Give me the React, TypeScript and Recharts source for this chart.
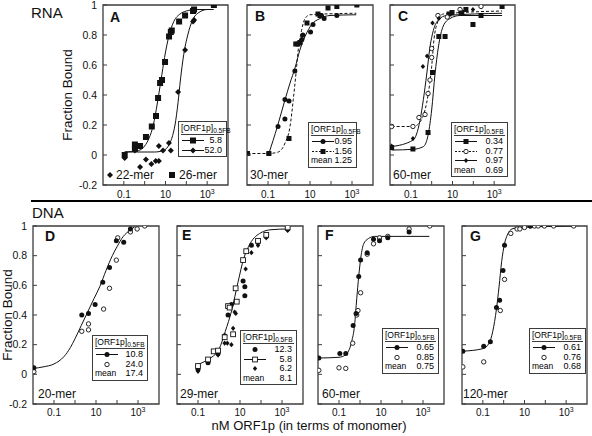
import React from 'react';
import { ComposedChart, XAxis, YAxis, Line, Scatter, ReferenceArea } from 'recharts';

type Pt = [number, number];

// ---- RNA, panel A ----
const rna22Points: Pt[] = [[0.11, -0.02], [0.34, 0.03], [0.6, -0.08], [1.15, -0.03], [2.1, -0.06], [3.4, -0.04], [4.8, -0.04], [4.8, 0.06], [7.6, 0.03], [14.6, 0.08], [18, 0.03], [40, 0.42], [87, 0.7], [210, 0.89], [235, 0.9]];
const rna26Points: Pt[] = [[0.11, 0.0], [0.34, 0.07], [0.34, 0.04], [0.6, 0.06], [1.15, 0.12], [2.2, 0.19], [3.5, 0.26], [4.4, 0.38], [5.5, 0.48], [6.8, 0.5], [9.5, 0.62], [14.8, 0.79], [18, 0.82], [20, 0.83], [45, 0.89], [87, 0.93], [210, 0.96], [235, 0.97], [2100, 1.0]];
const rna26Fit: Pt[] = [[0.11, 0.02], [0.5, 0.03], [1, 0.06], [1.6, 0.11], [2.6, 0.2], [4, 0.34], [6.1, 0.5], [9, 0.65], [15, 0.8], [25, 0.89], [50, 0.94], [100, 0.96], [300, 0.97], [2000, 0.97]];
const rna22Fit: Pt[] = [[0.11, 0.02], [3, 0.02], [8, 0.03], [15, 0.07], [22, 0.13], [28.6, 0.2], [40, 0.35], [52, 0.5], [75, 0.67], [117, 0.8], [200, 0.9], [400, 0.95], [1000, 0.97], [2000, 0.97]];

// ---- RNA, panel B (30-mer) ----
const b095Points: Pt[] = [[0.11, 0.01], [0.3, 0.19], [0.64, 0.24], [0.64, 0.37], [1.0, 0.36], [1.9, 0.56], [4.1, 0.77], [4.6, 0.8], [10.6, 0.82], [13.9, 0.87], [35, 0.93], [47, 0.91], [190, 0.93]];
const b156Points: Pt[] = [[0.0105, 0.01], [0.11, 0.01], [1.0, 0.11], [2.1, 0.74], [2.7, 0.74], [3.3, 0.75], [7.2, 0.88], [24, 0.94], [30, 0.93], [72, 0.98], [190, 0.99], [1700, 1.0]];
const b095Fit: Pt[] = [[0.11, 0.01], [0.28, 0.19], [0.65, 0.37], [1.12, 0.48], [1.93, 0.58], [3.3, 0.7], [5.8, 0.79], [12, 0.87], [30, 0.91], [90, 0.93], [1600, 0.935]];
const b156Fit: Pt[] = [[0.0105, 0.01], [0.11, 0.01], [0.31, 0.02], [0.65, 0.08], [1.12, 0.19], [1.6, 0.37], [2.14, 0.54], [2.75, 0.7], [3.95, 0.83], [5.8, 0.91], [10, 0.935], [1600, 0.945]];

// ---- RNA, panel C (60-mer) ----
const c034Points: Pt[] = [[0.012, 0.05], [0.126, 0.04], [0.67, 0.15], [1.1, 0.55], [2.2, 0.79], [4.4, 0.79], [6.8, 0.94], [9.5, 0.95], [28, 0.95], [44, 0.97], [96, 0.87], [234, 0.93], [2400, 0.99]];
const c077Points: Pt[] = [[0.012, 0.19], [0.126, 0.19], [0.245, 0.25], [0.48, 0.27], [0.67, 0.41], [0.83, 0.5], [1.0, 0.65], [1.0, 0.71], [2.0, 0.93], [5.6, 0.92], [23, 0.97], [234, 0.99]];
const c097Points: Pt[] = [[0.012, 0.06], [0.126, 0.11], [0.38, 0.59], [0.6, 0.66], [1.1, 0.88], [2.2, 0.91], [23, 0.95], [96, 0.97], [2400, 1.0]];
const c097Fit: Pt[] = [[0.012, 0.056], [0.13, 0.1], [0.275, 0.23], [0.4, 0.37], [0.58, 0.54], [0.83, 0.72], [1.2, 0.83], [2.1, 0.9], [5.2, 0.93], [2400, 0.945]];
const c077Fit: Pt[] = [[0.012, 0.19], [0.13, 0.19], [0.275, 0.22], [0.48, 0.3], [0.69, 0.41], [1.0, 0.59], [1.29, 0.77], [1.86, 0.88], [3.6, 0.94], [2400, 0.96]];
const c034Fit: Pt[] = [[0.012, 0.033], [0.13, 0.038], [0.4, 0.056], [0.69, 0.14], [1.0, 0.3], [1.45, 0.54], [2.1, 0.72], [3.6, 0.86], [7.6, 0.91], [23, 0.93], [2400, 0.93]];

// ---- DNA, panel D (20-mer) ----
const d108Points: Pt[] = [[0.011, 0.044], [2.1, 0.4], [4.4, 0.41], [9.1, 0.47], [21, 0.62], [44, 0.72], [93, 0.9], [209, 0.89], [436, 0.98]];
const d240Points: Pt[] = [[0.011, 0.018], [2.1, 0.29], [4.4, 0.34], [4.4, 0.3], [23, 0.44], [44, 0.58], [93, 0.77], [108, 0.92], [436, 0.96], [912, 0.98], [2100, 1.0]];
const d108Fit: Pt[] = [[0.011, 0.04], [0.03, 0.05], [0.1, 0.07], [0.3, 0.12], [0.6, 0.18], [1, 0.24], [2, 0.33], [4, 0.42], [8, 0.51], [15, 0.59], [30, 0.7], [60, 0.8], [100, 0.86], [200, 0.93], [400, 0.97], [700, 0.995]];

// ---- DNA, panel E (29-mer) ----
const e123Points: Pt[] = [[0.1, 0.033], [0.3, 0.078], [0.9, 0.14], [1.86, 0.26], [2.7, 0.4], [3.9, 0.47], [14, 0.63], [17, 0.59], [17, 0.53], [35, 0.87], [72, 0.89], [178, 0.93], [1860, 0.98]];
const e58Points: Pt[] = [[0.1, 0.056], [0.3, 0.1], [0.56, 0.155], [0.9, 0.16], [1.86, 0.25], [2.7, 0.46], [3.2, 0.45], [4.7, 0.27], [6.2, 0.58], [7, 0.49], [14, 0.77], [19.8, 0.83], [72, 0.9], [178, 0.94], [1860, 0.99]];
const e62Points: Pt[] = [[0.1, 0.02], [0.9, 0.13], [1.86, 0.21], [2.5, 0.21], [3.9, 0.2], [4.7, 0.31], [5.6, 0.42], [6.3, 0.41], [18.6, 0.71], [35, 0.82], [72, 0.87], [178, 0.92], [1860, 0.97]];
const e58Fit: Pt[] = [[0.1, 0.067], [0.3, 0.1], [1, 0.17], [2, 0.29], [4, 0.43], [8, 0.62], [15, 0.78], [30, 0.88], [100, 0.955], [300, 0.975], [1800, 0.98]];

// ---- DNA, panel F (60-mer) ----
const f065Points: Pt[] = [[0.011, 0.11], [0.11, 0.14], [0.21, 0.14], [0.47, 0.33], [0.65, 0.41], [0.87, 0.66], [1.07, 0.77], [2.2, 0.82], [4.4, 0.91], [8.5, 0.9], [21, 0.92], [218, 0.96]];
const f085Points: Pt[] = [[0.011, 0.027], [0.1, 0.044], [0.21, 0.04], [0.45, 0.21], [0.7, 0.4], [0.8, 0.43], [1.07, 0.55], [2.2, 0.81], [4.4, 0.88], [8.5, 0.92], [21, 0.93], [218, 0.98], [2100, 1.0]];
const f065Fit: Pt[] = [[0.011, 0.11], [0.1, 0.115], [0.2, 0.13], [0.4, 0.22], [0.55, 0.33], [0.7, 0.51], [0.87, 0.66], [1.1, 0.79], [1.5, 0.88], [2.5, 0.915], [5, 0.93], [2000, 0.93]];

// ---- DNA, panel G (120-mer) ----
const g061Points: Pt[] = [[0.011, 0.156], [0.11, 0.19], [0.23, 0.22], [0.45, 0.45], [0.64, 0.5], [0.93, 0.7], [1.1, 0.87], [19, 1.0]];
const g076Points: Pt[] = [[0.011, 0.05], [0.11, 0.084], [0.69, 0.43], [1.1, 0.64], [2.2, 0.95], [4.4, 0.98], [6, 0.98], [10, 0.99], [19, 1.0], [30, 1.0], [45, 1.0], [90, 1.0], [250, 1.0], [2300, 1.0]];
const g061Fit: Pt[] = [[0.011, 0.156], [0.1, 0.173], [0.2, 0.21], [0.3, 0.29], [0.45, 0.44], [0.6, 0.59], [0.8, 0.76], [1.1, 0.88], [1.5, 0.94], [2.5, 0.98], [5, 0.99], [2300, 1.0]];

const X_DOMAIN: [number, number] = [0.01, 10000];
const X_TICKS = [0.1, 1, 10, 100, 1000];
const Y_DOMAIN: [number, number] = [-0.2, 1];
const Y_TICKS = [-0.2, 0, 0.2, 0.4, 0.6, 0.8, 1];
const Y_LABELS = ['-0.2', '0', '0.2', '0.4', '0.6', '0.8', '1'];

const FONT = '"Liberation Sans", Arial, sans-serif';
const INK = '#111';
const FRAME = '#3c3c3c';

type MarkerKind = 'square' | 'bigSquare' | 'diamond' | 'smallDiamond' | 'dot' | 'open' | 'openSquare';

function drawMarker(kind: MarkerKind, cx: number, cy: number) {
  switch (kind) {
    case 'bigSquare':
      return <rect x={cx - 3} y={cy - 3} width={6} height={6} fill={INK} />;
    case 'square':
      return <rect x={cx - 2.5} y={cy - 2.5} width={5} height={5} fill={INK} />;
    case 'diamond':
      return <polygon points={`${cx},${cy - 3} ${cx + 3},${cy} ${cx},${cy + 3} ${cx - 3},${cy}`} fill={INK} />;
    case 'smallDiamond':
      return <polygon points={`${cx},${cy - 2.6} ${cx + 2.2},${cy} ${cx},${cy + 2.6} ${cx - 2.2},${cy}`} fill={INK} />;
    case 'dot':
      return <circle cx={cx} cy={cy} r={2.5} fill={INK} />;
    case 'open':
      return <circle cx={cx} cy={cy} r={2.2} fill="#fff" stroke={INK} strokeWidth={0.9} />;
    case 'openSquare':
      return <rect x={cx - 2.4} y={cy - 2.4} width={4.8} height={4.8} fill="#fff" stroke={INK} strokeWidth={0.9} />;
  }
  return null;
}

interface Series { points: Pt[]; marker: MarkerKind }
interface Fit { points: Pt[]; dash?: string }
interface PanelCfg { left: number; top: number; w: number; h: number; yLabels: boolean; labelGap: number; series: Series[]; fits: Fit[] }

const rows = (pts: Pt[]) => pts.map(([x, y]) => ({ x, y }));

function XTick(props: any) {
  const { x, y, payload, gap } = props;
  const v = payload.value;
  let label: React.ReactNode = null;
  if (v === 0.1) label = '0.1';
  if (v === 10) label = '10';
  if (v === 1000) label = <>10<tspan dy={-4} fontSize={7}>3</tspan></>;
  return (
    <g>
      <line x1={x} x2={x} y1={y} y2={y - 4} stroke={FRAME} strokeWidth={1} />
      {label && (
        <text x={x} y={y + gap} textAnchor="middle" fontSize={10} fontFamily={FONT} fill={INK}>{label}</text>
      )}
    </g>
  );
}

function YTick(props: any) {
  const { x, y, payload, show } = props;
  const i = Y_TICKS.indexOf(payload.value);
  return (
    <g>
      <line x1={x} x2={x + 4} y1={y} y2={y} stroke={FRAME} strokeWidth={1} />
      {show && (
        <text x={x - 6} y={y + 3.8} textAnchor="end" fontSize={10.5} fontFamily={FONT} fill={INK}>{Y_LABELS[i]}</text>
      )}
    </g>
  );
}

function Panel({ cfg }: { cfg: PanelCfg }) {
  const ML = 34, MT = 6, MR = 6, MB = 22;
  return (
    <div style={{ position: 'absolute', left: cfg.left - ML, top: cfg.top - MT }}>
      <ComposedChart width={cfg.w + ML + MR} height={cfg.h + MT + MB} margin={{ top: MT, right: MR, bottom: 0, left: 0 }}>
        <XAxis dataKey="x" type="number" scale="log" domain={X_DOMAIN} ticks={X_TICKS} allowDataOverflow interval={0}
          height={MB} axisLine={false} tickLine={false} tickSize={0} tickMargin={0} tick={(p: any) => <XTick {...p} gap={cfg.labelGap} />} />
        <YAxis dataKey="y" type="number" domain={Y_DOMAIN} ticks={Y_TICKS} allowDataOverflow interval={0}
          width={ML} axisLine={false} tickLine={false} tickSize={0} tickMargin={0} tick={(p: any) => <YTick {...p} show={cfg.yLabels} />} />
        <ReferenceArea x1={X_DOMAIN[0]} x2={X_DOMAIN[1]} y1={Y_DOMAIN[0]} y2={Y_DOMAIN[1]} fill="none" stroke={FRAME} strokeWidth={1.3} ifOverflow="visible" />
        {cfg.fits.map((f, i) => (
          <Line key={`f${i}`} data={rows(f.points)} dataKey="y" type="monotone" dot={false} stroke={INK} strokeWidth={1}
            strokeDasharray={f.dash} isAnimationActive={false} />
        ))}
        {cfg.series.map((s, i) => (
          <Scatter key={`s${i}`} data={rows(s.points)} dataKey="y" isAnimationActive={false}
            shape={(p: any) => drawMarker(s.marker, p.cx, p.cy)} />
        ))}
      </ComposedChart>
    </div>
  );
}

const PANELS: PanelCfg[] = [
  { left: 103, top: 5, w: 125, h: 180, yLabels: true, labelGap: 13,
    fits: [{ points: rna26Fit }, { points: rna22Fit }],
    series: [{ points: rna22Points, marker: 'diamond' }, { points: rna26Points, marker: 'bigSquare' }] },
  { left: 247, top: 5, w: 126, h: 180, yLabels: false, labelGap: 13,
    fits: [{ points: b095Fit }, { points: b156Fit, dash: '3 2' }],
    series: [{ points: b095Points, marker: 'dot' }, { points: b156Points, marker: 'square' }] },
  { left: 390, top: 5, w: 125, h: 180, yLabels: false, labelGap: 13,
    fits: [{ points: c097Fit }, { points: c077Fit, dash: '3 2' }, { points: c034Fit }],
    series: [{ points: c034Points, marker: 'square' }, { points: c077Points, marker: 'open' }, { points: c097Points, marker: 'smallDiamond' }] },
  { left: 33, top: 226, w: 126, h: 178, yLabels: true, labelGap: 12,
    fits: [{ points: d108Fit }],
    series: [{ points: d240Points, marker: 'open' }, { points: d108Points, marker: 'dot' }] },
  { left: 177, top: 226, w: 126, h: 178, yLabels: false, labelGap: 12,
    fits: [{ points: e58Fit }],
    series: [{ points: e62Points, marker: 'smallDiamond' }, { points: e123Points, marker: 'dot' }, { points: e58Points, marker: 'openSquare' }] },
  { left: 318, top: 226, w: 126, h: 178, yLabels: false, labelGap: 12,
    fits: [{ points: f065Fit }],
    series: [{ points: f085Points, marker: 'open' }, { points: f065Points, marker: 'dot' }] },
  { left: 462, top: 226, w: 125, h: 178, yLabels: false, labelGap: 12,
    fits: [{ points: g061Fit }],
    series: [{ points: g076Points, marker: 'open' }, { points: g061Points, marker: 'dot' }] },
];

interface LegendRow { marker?: MarkerKind; line?: 'solid' | 'dashed'; label?: string; value: string }

function LegendBox({ left, top, width, items }: { left: number; top: number; width: number; items: LegendRow[] }) {
  return (
    <div style={{ position: 'absolute', left, top, width, boxSizing: 'border-box', border: `1px solid ${FRAME}`, background: '#fff',
      fontFamily: FONT, fontSize: 9, color: '#000', padding: '1px 2px 1px 2px' }}>
      <div style={{ borderBottom: `1px solid ${FRAME}`, height: 11, marginBottom: 1 }}>
        <svg width={width - 6} height={11} style={{ display: 'block', overflow: 'visible' }}>
          <text x={0} y={8} fontSize={8.5} fontFamily={FONT} fill="#000">
            [ORF1p]<tspan fontSize={6.5} dy={2}>0.5FB</tspan>
          </text>
        </svg>
      </div>
      {items.map((r, i) => (
        <div key={i} style={{ display: 'flex', alignItems: 'center', justifyContent: 'space-between', height: 9.6, lineHeight: '9.6px' }}>
          {r.label ? (
            <span style={{ fontSize: 8.5 }}>{r.label}</span>
          ) : (
            <svg width={24} height={9} style={{ display: 'block' }}>
              {r.line && <line x1={1} x2={23} y1={4.5} y2={4.5} stroke={INK} strokeWidth={1} strokeDasharray={r.line === 'dashed' ? '2 1.5' : undefined} />}
              {r.marker && drawMarker(r.marker, 12, 4.5)}
            </svg>
          )}
          <span style={{ paddingRight: 2 }}>{r.value}</span>
        </div>
      ))}
    </div>
  );
}

const LEGENDS: { left: number; top: number; width: number; items: LegendRow[] }[] = [
  { left: 178, top: 121, width: 49, items: [{ marker: 'bigSquare', line: 'solid', value: '5.8' }, { marker: 'diamond', line: 'solid', value: '52.0' }] },
  { left: 308, top: 122, width: 49, items: [{ marker: 'dot', line: 'solid', value: '0.95' }, { marker: 'square', line: 'dashed', value: '1.56' }, { label: 'mean', value: '1.25' }] },
  { left: 451, top: 122, width: 57, items: [{ marker: 'square', line: 'solid', value: '0.34' }, { marker: 'open', line: 'dashed', value: '0.77' }, { marker: 'smallDiamond', line: 'solid', value: '0.97' }, { label: 'mean', value: '0.69' }] },
  { left: 92, top: 335, width: 56, items: [{ marker: 'dot', line: 'solid', value: '10.8' }, { marker: 'open', value: '24.0' }, { label: 'mean', value: '17.4' }] },
  { left: 240, top: 330, width: 57, items: [{ marker: 'dot', value: '12.3' }, { marker: 'openSquare', line: 'solid', value: '5.8' }, { marker: 'smallDiamond', value: '6.2' }, { label: 'mean', value: '8.1' }] },
  { left: 382, top: 328, width: 57, items: [{ marker: 'dot', line: 'solid', value: '0.65' }, { marker: 'open', value: '0.85' }, { label: 'mean', value: '0.75' }] },
  { left: 529, top: 328, width: 57, items: [{ marker: 'dot', line: 'solid', value: '0.61' }, { marker: 'open', value: '0.76' }, { label: 'mean', value: '0.68' }] },
];

const PANEL_LETTERS: [string, number, number][] = [['A', 110, 22], ['B', 255, 21], ['C', 398, 21], ['D', 45, 241], ['E', 182, 240], ['F', 325, 240], ['G', 470, 241]];
const MER_LABELS: [string, number, number][] = [['30-mer', 250, 179], ['60-mer', 393, 179], ['20-mer', 38, 398], ['29-mer', 180, 398], ['60-mer', 322, 398], ['120-mer', 463, 398]];

export default function App() {
  return (
    <div style={{ position: 'absolute', left: 0, top: 0, width: 592, height: 436, background: '#fff', overflow: 'hidden', fontFamily: FONT }}>
      {PANELS.map((p, i) => <Panel key={i} cfg={p} />)}
      <svg width={592} height={436} style={{ position: 'absolute', left: 0, top: 0, pointerEvents: 'none' }} fontFamily={FONT} fill={INK}>
        <text x={31} y={18} fontSize={15}>RNA</text>
        <text x={32} y={218} fontSize={15}>DNA</text>
        <rect x={31} y={200} width={561} height={2} fill="#000" />
        <text transform="translate(72,95) rotate(-90)" textAnchor="middle" fontSize={13.5}>Fraction Bound</text>
        <text transform="translate(12,315) rotate(-90)" textAnchor="middle" fontSize={13.5}>Fraction Bound</text>
        <text x={309} y={430} textAnchor="middle" fontSize={13}>nM ORF1p (in terms of monomer)</text>
        {PANEL_LETTERS.map(([t, x, y]) => (
          <text key={t} x={x} y={y} fontSize={14} fontWeight="bold">{t}</text>
        ))}
        {MER_LABELS.map(([t, x, y], i) => (
          <text key={i} x={x} y={y} fontSize={12}>{t}</text>
        ))}
        {drawMarker('diamond', 110, 175)}
        <text x={116} y={179} fontSize={12}>22-mer</text>
        {drawMarker('bigSquare', 172, 175)}
        <text x={179} y={179} fontSize={12}>26-mer</text>
      </svg>
      {LEGENDS.map((l, i) => <LegendBox key={i} {...l} />)}
    </div>
  );
}
